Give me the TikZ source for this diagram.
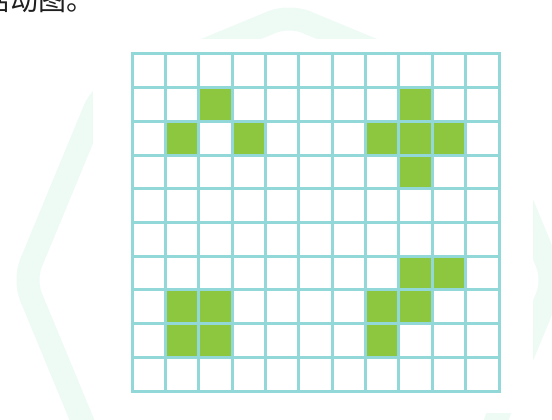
\documentclass[tikz,border=0pt]{standalone}
\usepackage{fontspec}
\newfontfamily\cjk{Noto Sans CJK SC}
\definecolor{gridc}{HTML}{92D8D8}
\definecolor{cellg}{HTML}{8DC63F}
\definecolor{wm}{HTML}{EEFBF5}
\tikzset{
  gridline/.style={draw=gridc, line width=3pt, line cap=rect},
  livecell/.style={fill=cellg, draw=none},
  watermark/.style={draw=wm, line width=23pt, rounded corners=18pt},
}
\begin{document}
\begin{tikzpicture}[x=1pt,y=-1pt]
\useasboundingbox (0,0) rectangle (552,420);
\fill[white] (0,0) rectangle (552,420);
% watermark octagon ring
\draw[watermark] (554,280) -- (476.4,467.4) -- (289,545) -- (101.6,467.4) -- (24,280) -- (101.6,92.6) -- (289,15) -- (476.4,92.6) -- cycle;
\fill[white] (93,39) rectangle (533,413);
% caption fragment
\node[anchor=base west, inner sep=0, text=black!88, font=\cjk\fontsize{28}{28}\selectfont] (cap) at (-18,11) {活动图。};
% live cells
\def\cw{33.3636}
\def\ch{33.7}
\foreach \c/\r in {2/1,1/2,3/2, 8/1,7/2,8/2,9/2,8/3, 1/7,2/7,1/8,2/8, 8/6,9/6,7/7,8/7,7/8}
  \fill[livecell] ({132+\c*\cw},{54+\r*\ch}) rectangle ({132+(\c+1)*\cw},{54+(\r+1)*\ch});
% grid
\foreach \i in {0,...,11}
  \draw[gridline] ({132+\i*\cw},54) -- ({132+\i*\cw},391);
\foreach \j in {0,...,10}
  \draw[gridline] (132,{54+\j*\ch}) -- (499,{54+\j*\ch});
\end{tikzpicture}
\end{document}
